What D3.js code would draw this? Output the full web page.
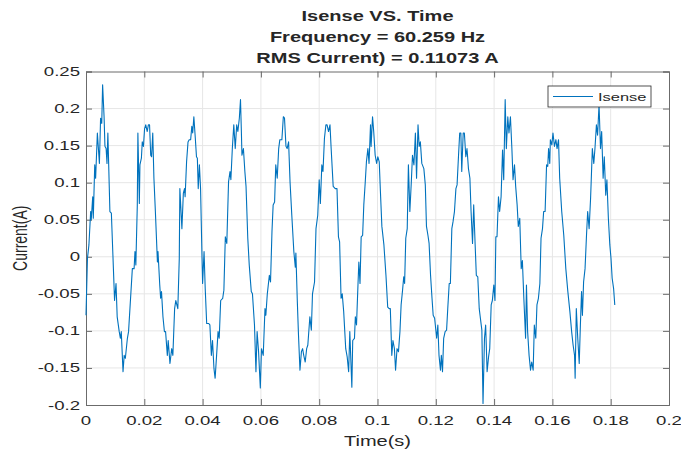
<!DOCTYPE html>
<html lang="en">
<head>
<meta charset="UTF-8">
<title>Isense VS. Time</title>
<script src="https://d3js.org/d3.v7.min.js"></script>
<style>
  body { margin: 0; background: #fff; }
  text { font-family: "Liberation Sans", Arial, sans-serif; fill: #262626; }
</style>
</head>
<body>
<div id="chart"></div>
<script>
const timeS = [
  0, 0.0005, 0.0010, 0.0016, 0.0018, 0.0023, 0.0025, 0.0030, 0.0033, 0.0039,
  0.0046, 0.0050, 0.0054, 0.0057, 0.0062, 0.0065, 0.0069, 0.0072, 0.0075, 0.0082,
  0.0087, 0.0094, 0.0098, 0.0103, 0.0107, 0.0114, 0.0118, 0.0121, 0.0127, 0.0131,
  0.0135, 0.0142, 0.0146, 0.0159, 0.0165, 0.0168, 0.0171, 0.0176, 0.0178, 0.0183,
  0.0185, 0.0190, 0.0193, 0.0197, 0.0201, 0.0205, 0.0210, 0.0214, 0.0218, 0.0222,
  0.0225, 0.0229, 0.0233, 0.0238, 0.0245, 0.0247, 0.0253, 0.0256, 0.0259, 0.0264,
  0.0269, 0.0273, 0.0279, 0.0282, 0.0288, 0.0294, 0.0298, 0.0304, 0.0308, 0.0315,
  0.0320, 0.0322, 0.0329, 0.0334, 0.0338, 0.0340, 0.0345, 0.0350, 0.0354, 0.0359,
  0.0363, 0.0366, 0.0370, 0.0375, 0.0379, 0.0382, 0.0385, 0.0389, 0.0393, 0.0398,
  0.0400, 0.0405, 0.0409, 0.0414, 0.0421, 0.0425, 0.0430, 0.0434, 0.0439, 0.0443,
  0.0448, 0.0453, 0.0457, 0.0462, 0.0469, 0.0473, 0.0478, 0.0483, 0.0489, 0.0494,
  0.0497, 0.0502, 0.0507, 0.0512, 0.0517, 0.0521, 0.0526, 0.0530, 0.0533, 0.0535,
  0.0540, 0.0545, 0.0549, 0.0555, 0.0560, 0.0567, 0.0571, 0.0578, 0.0583, 0.0587,
  0.0592, 0.0598, 0.0602, 0.0608, 0.0614, 0.0617, 0.0622, 0.0629, 0.0633, 0.0638,
  0.0642, 0.0647, 0.0651, 0.0656, 0.0661, 0.0665, 0.0672, 0.0677, 0.0681, 0.0686,
  0.0690, 0.0695, 0.0700, 0.0706, 0.0713, 0.0718, 0.0720, 0.0725, 0.0729, 0.0734,
  0.0739, 0.0743, 0.0747, 0.0752, 0.0757, 0.0761, 0.0768, 0.0773, 0.0777, 0.0784,
  0.0789, 0.0795, 0.0800, 0.0804, 0.0809, 0.0813, 0.0818, 0.0823, 0.0827, 0.0832,
  0.0837, 0.0841, 0.0848, 0.0855, 0.0861, 0.0866, 0.0870, 0.0875, 0.0879, 0.0884,
  0.0891, 0.0896, 0.0901, 0.0905, 0.0912, 0.0915, 0.0921, 0.0924, 0.0928, 0.0933,
  0.0936, 0.0940, 0.0944, 0.0949, 0.0953, 0.0958, 0.0962, 0.0967, 0.0971, 0.0976,
  0.0978, 0.0983, 0.0987, 0.0992, 0.0997, 0.1001, 0.1006, 0.1010, 0.1015, 0.1022,
  0.1029, 0.1035, 0.1040, 0.1044, 0.1049, 0.1053, 0.1058, 0.1062, 0.1067, 0.1072,
  0.1077, 0.1081, 0.1086, 0.1090, 0.1093, 0.1097, 0.1102, 0.1106, 0.1111, 0.1116,
  0.1120, 0.1125, 0.1130, 0.1134, 0.1139, 0.1143, 0.1147, 0.1152, 0.1159, 0.1164,
  0.1168, 0.1173, 0.1177, 0.1182, 0.1187, 0.1191, 0.1196, 0.1203, 0.1207, 0.1211,
  0.1216, 0.1219, 0.1223, 0.1227, 0.1232, 0.1237, 0.1241, 0.1246, 0.1250, 0.1255,
  0.1259, 0.1264, 0.1269, 0.1273, 0.1278, 0.1282, 0.1286, 0.1289, 0.1294, 0.1298,
  0.1303, 0.1307, 0.1312, 0.1317, 0.1321, 0.1326, 0.1330, 0.1335, 0.1339, 0.1344,
  0.1349, 0.1353, 0.1358, 0.1362, 0.1367, 0.1371, 0.1376, 0.1381, 0.1385, 0.1390,
  0.1394, 0.1399, 0.1403, 0.1406, 0.1410, 0.1415, 0.1419, 0.1424, 0.1429, 0.1433,
  0.1438, 0.1442, 0.1447, 0.1451, 0.1456, 0.1461, 0.1465, 0.1470, 0.1474, 0.1479,
  0.1483, 0.1488, 0.1493, 0.1497, 0.1502, 0.1508, 0.1511, 0.1515, 0.1520, 0.1525,
  0.1529, 0.1534, 0.1538, 0.1543, 0.1547, 0.1552, 0.1557, 0.1561, 0.1566, 0.1570,
  0.1575, 0.1580, 0.1584, 0.1587, 0.1591, 0.1593, 0.1598, 0.1602, 0.1607, 0.1612,
  0.1616, 0.1621, 0.1625, 0.1632, 0.1639, 0.1646, 0.1653, 0.1660, 0.1666, 0.1671,
  0.1676, 0.1678, 0.1682, 0.1687, 0.1692, 0.1696, 0.1700, 0.1703, 0.1707, 0.1712,
  0.1717, 0.1721, 0.1726, 0.1731, 0.1733, 0.1737, 0.1742, 0.1746, 0.1751, 0.1755,
  0.1760, 0.1765, 0.1769, 0.1774, 0.1778, 0.1783, 0.1787, 0.1792, 0.1797, 0.1801,
  0.1805, 0.1810, 0.1814
];
const currentA = [
  -0.079, -0.002, 0.016, 0.061, 0.050, 0.081, 0.052, 0.124, 0.106, 0.167,
  0.126, 0.187, 0.180, 0.232, 0.189, 0.149, 0.146, 0.126, 0.167, 0.061,
  0.059, -0.016, -0.059, -0.036, -0.081, -0.101, -0.110, -0.101, -0.155, -0.133,
  -0.137, -0.110, -0.101, -0.016, -0.016, 0.007, -0.011, 0.070, 0.167, 0.072,
  0.124, 0.133, 0.155, 0.149, 0.173, 0.178, 0.169, 0.178, 0.178, 0.137,
  0.135, 0.167, 0.106, 0.061, -0.007, 0.007, -0.038, -0.056, -0.047, -0.081,
  -0.101, -0.101, -0.133, -0.113, -0.144, -0.124, -0.133, -0.070, -0.059, -0.070,
  -0.002, 0.092, 0.038, 0.086, 0.092, 0.081, 0.128, 0.155, 0.158, 0.158,
  0.176, 0.167, 0.189, 0.160, 0.135, 0.133, 0.092, 0.124, 0.092, -0.002,
  -0.036, 0.007, -0.043, -0.090, -0.090, -0.092, -0.133, -0.113, -0.151, -0.164,
  -0.133, -0.101, -0.110, -0.059, -0.056, -0.045, 0.027, 0.018, 0.101, 0.115,
  0.104, 0.146, 0.178, 0.146, 0.178, 0.169, 0.187, 0.212, 0.169, 0.137,
  0.146, 0.115, 0.095, 0.025, -0.011, -0.047, -0.050, -0.092, -0.155, -0.101,
  -0.128, -0.177, -0.124, -0.133, -0.070, -0.079, -0.050, -0.025, -0.034, 0.034,
  0.070, 0.074, 0.124, 0.106, 0.146, 0.158, 0.158, 0.189, 0.187, 0.149,
  0.146, 0.155, 0.101, 0.056, 0.007, -0.014, 0.005, -0.061, -0.106, -0.153,
  -0.128, -0.124, -0.133, -0.142, -0.124, -0.119, -0.081, -0.099, -0.050, -0.034,
  0.038, 0.056, 0.104, 0.072, 0.124, 0.115, 0.160, 0.178, 0.178, 0.169,
  0.178, 0.146, 0.095, 0.092, 0.092, 0.027, 0.020, -0.056, -0.050, -0.074,
  -0.124, -0.135, -0.155, -0.101, -0.176, -0.113, -0.110, -0.081, -0.092, -0.038,
  -0.007, -0.036, 0.027, 0.029, 0.070, 0.101, 0.128, 0.146, 0.126, 0.178,
  0.149, 0.189, 0.169, 0.137, 0.126, 0.135, 0.128, 0.088, 0.041, 0.016,
  -0.025, -0.068, -0.070, -0.070, -0.133, -0.113, -0.124, -0.153, -0.124, -0.128,
  -0.101, -0.065, -0.045, -0.027, -0.036, 0.025, 0.038, 0.124, 0.061, 0.101,
  0.137, 0.124, 0.167, 0.106, 0.178, 0.149, 0.155, 0.126, 0.119, 0.097,
  0.041, 0.029, 0.018, -0.025, -0.056, -0.079, -0.083, -0.110, -0.092, -0.133,
  -0.153, -0.133, -0.155, -0.110, -0.101, -0.099, -0.070, -0.036, -0.036, 0.038,
  0.047, 0.061, 0.092, 0.097, 0.137, 0.167, 0.167, 0.115, 0.167, 0.167,
  0.135, 0.146, 0.119, 0.106, 0.061, 0.018, 0.070, 0.016, -0.025, -0.027,
  -0.070, -0.083, -0.099, -0.198, -0.110, -0.092, -0.155, -0.135, -0.124, -0.065,
  -0.059, -0.038, -0.059, 0.027, 0.027, 0.081, 0.061, 0.081, 0.144, 0.104,
  0.212, 0.146, 0.189, 0.167, 0.189, 0.146, 0.104, 0.124, 0.095, 0.070,
  0.041, 0.052, -0.016, -0.005, -0.056, -0.110, -0.038, -0.101, -0.133, -0.153,
  -0.142, -0.153, -0.092, -0.110, -0.065, -0.056, -0.036, 0.025, 0.038, 0.061,
  0.061, 0.124, 0.122, 0.146, 0.126, 0.158, 0.151, 0.167, 0.149, 0.158,
  0.146, 0.158, 0.106, 0.061, 0.029, -0.016, -0.047, -0.074, -0.101, -0.119,
  -0.133, -0.164, -0.070, -0.110, -0.144, -0.092, -0.047, -0.079, -0.034, -0.016,
  0.029, 0.061, 0.038, 0.079, 0.101, 0.146, 0.126, 0.146, 0.178, 0.164,
  0.205, 0.146, 0.169, 0.106, 0.135, 0.083, 0.104, 0.052, 0.016, -0.002,
  -0.029, -0.043, -0.065
];
const xTicks = [0, 0.02, 0.04, 0.06, 0.08, 0.1, 0.12, 0.14, 0.16, 0.18, 0.2];
const yTicks = [-0.2, -0.15, -0.1, -0.05, 0, 0.05, 0.1, 0.15, 0.2, 0.25];
const titleLines = ["Isense VS. Time", "Frequency = 60.259 Hz", "RMS Current) = 0.11073 A"];
const seriesName = "Isense";

const W = 681, H = 453;
const plotL = 86, plotR = 669, plotT = 71.5, plotB = 405;
const SX = 1.43; // the picture is stretched sideways, so is its text
const lineColor = "#0072BD";

const svg = d3.select("#chart").append("svg")
  .attr("width", W).attr("height", H);

const x = d3.scaleLinear().domain([0, 0.2]).range([plotL, plotR]);
const y = d3.scaleLinear().domain([-0.2, 0.25]).range([plotB, plotT]);
const fmt = d => String(+d.toFixed(2));

// grid
svg.append("g").selectAll("line").data(xTicks.slice(1, -1)).join("line")
  .attr("x1", d => x(d)).attr("x2", d => x(d))
  .attr("y1", plotT).attr("y2", plotB)
  .attr("stroke", "#e6e6e6");
svg.append("g").selectAll("line").data(yTicks.slice(1, -1)).join("line")
  .attr("x1", plotL).attr("x2", plotR)
  .attr("y1", d => y(d)).attr("y2", d => y(d))
  .attr("stroke", "#e6e6e6");

// axes, ticks pointing in on all four sides
const tk = 6;
const axBottom = svg.append("g").attr("transform", `translate(0,${plotB})`)
  .call(d3.axisBottom(x).tickValues(xTicks).tickSize(-tk).tickFormat(""));
const axTop = svg.append("g").attr("transform", `translate(0,${plotT})`)
  .call(d3.axisTop(x).tickValues(xTicks).tickSize(-tk).tickFormat(""));
const axLeft = svg.append("g").attr("transform", `translate(${plotL},0)`)
  .call(d3.axisLeft(y).tickValues(yTicks).tickSize(-tk).tickFormat(""));
const axRight = svg.append("g").attr("transform", `translate(${plotR},0)`)
  .call(d3.axisRight(y).tickValues(yTicks).tickSize(-tk).tickFormat(""));
[axBottom, axTop, axLeft, axRight].forEach(g => {
  g.selectAll("path").attr("stroke", "#6b6b6b").attr("stroke-width", 1);
  g.selectAll("line").attr("stroke", "#6b6b6b");
});

// tick labels
svg.append("g").selectAll("text").data(xTicks).join("text")
  .attr("transform", d => `translate(${x(d)},${plotB + 20}) scale(${SX},1)`)
  .attr("text-anchor", "middle")
  .attr("font-size", 13)
  .text(fmt);
svg.append("g").selectAll("text").data(yTicks).join("text")
  .attr("transform", d => `translate(${plotL - 6},${y(d) + 4.5}) scale(${SX},1)`)
  .attr("text-anchor", "end")
  .attr("font-size", 13)
  .text(fmt);

// axis labels
svg.append("text")
  .attr("transform", `translate(${(plotL + plotR) / 2},${plotB + 41}) scale(${SX},1)`)
  .attr("text-anchor", "middle").attr("font-size", 14)
  .text("Time(s)");
svg.append("text")
  .attr("transform", `translate(${plotL - 59},${(plotT + plotB) / 2}) rotate(-90) scale(1,${SX})`)
  .attr("text-anchor", "middle").attr("font-size", 14)
  .text("Current(A)");

// title
svg.append("g").selectAll("text").data(titleLines).join("text")
  .attr("transform", (d, i) => `translate(${(plotL + plotR) / 2},${21 + i * 21}) scale(${SX},1)`)
  .attr("text-anchor", "middle")
  .attr("font-size", 14).attr("font-weight", "bold")
  .attr("fill", "#000")
  .text(d => d);

// signal
const pts = timeS.map((t, i) => [t, currentA[i]]);
svg.append("path")
  .datum(pts)
  .attr("fill", "none")
  .attr("stroke", lineColor)
  .attr("stroke-width", 1.1)
  .attr("stroke-linejoin", "round")
  .attr("d", d3.line().x(d => x(d[0])).y(d => y(d[1])));

// legend
const lg = svg.append("g").attr("transform", "translate(548,86)");
lg.append("rect").attr("width", 103).attr("height", 21)
  .attr("fill", "#fff").attr("stroke", "#262626").attr("stroke-width", 0.8);
lg.append("line").attr("x1", 5).attr("x2", 45).attr("y1", 10.5).attr("y2", 10.5)
  .attr("stroke", lineColor).attr("stroke-width", 1.1);
lg.append("text")
  .attr("transform", `translate(50,15) scale(${SX},1)`)
  .attr("font-size", 11.5)
  .text(seriesName);
</script>
</body>
</html>
